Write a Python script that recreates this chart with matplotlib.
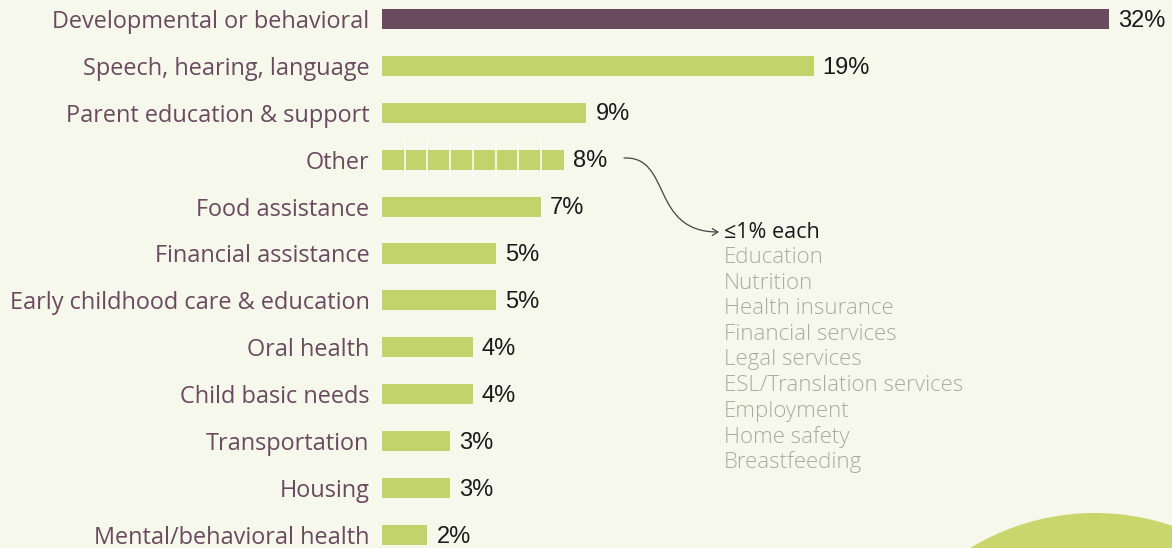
import matplotlib
matplotlib.use("Agg")
import matplotlib.pyplot as plt
from matplotlib.path import Path
from matplotlib.patches import FancyArrowPatch, Circle

categories = [
    "Developmental or behavioral",
    "Speech, hearing, language",
    "Parent education & support",
    "Other",
    "Food assistance",
    "Financial assistance",
    "Early childhood care & education",
    "Oral health",
    "Child basic needs",
    "Transportation",
    "Housing",
    "Mental/behavioral health",
]
values = [32, 19, 9, 8, 7, 5, 5, 4, 4, 3, 3, 2]
other_items = [
    "Education",
    "Nutrition",
    "Health insurance",
    "Financial services",
    "Legal services",
    "ESL/Translation services",
    "Employment",
    "Home safety",
    "Breastfeeding",
]
other_header = "\u22641% each"

BG = "#F6F8EC"
PURPLE = "#6A4A5E"
GREEN = "#C1D36A"
CIRCLE = "#C8D66C"
GREY = "#A9ABA2"

W, H = 1172, 548
fig = plt.figure(figsize=(W / 100, H / 100), dpi=100, facecolor=BG)

# Decoration layer in pixel coordinates
deco = fig.add_axes([0, 0, 1, 1], zorder=0)
deco.set_xlim(0, W)
deco.set_ylim(H, 0)
deco.axis("off")
deco.set_facecolor(BG)
deco.add_patch(Circle((1095, 753), 240, color=CIRCLE, lw=0))

# Bar chart
left_px = 382
ax = fig.add_axes([left_px / W, 0, 1 - left_px / W, 1], zorder=1)
ax.patch.set_alpha(0)
px_per_unit = (1109 - left_px) / 32
ax.set_xlim(0, (W - left_px) / px_per_unit)
row = 46.9
ax.set_ylim((H - 19) / row, -19 / row)

ypos = list(range(len(categories)))
colors = [PURPLE] + [GREEN] * (len(categories) - 1)
ax.barh(ypos, values, height=0.43, color=colors, lw=0)

# Segment the "Other" bar into 1% blocks
oi = categories.index("Other")
ax.vlines(range(1, values[oi]), oi - 0.37, oi + 0.37, colors="white", lw=1.1, zorder=3)

for y, v in zip(ypos, values):
    ax.annotate(f"{v}%", (v, y), xytext=(6.5, -1.2), textcoords="offset points",
                va="center", ha="left", fontsize=17, color="#1a1a1a",
                family="Liberation Sans")

ax.set_yticks(ypos)
ax.set_yticklabels(categories, fontsize=16.9, color=PURPLE, family="Open Sans")
ax.tick_params(axis="y", length=0, pad=9)
ax.set_xticks([])
for s in ax.spines.values():
    s.set_visible(False)

# Connector from "Other" to its breakdown list
verts = [(624, 158), (672, 156), (650, 232), (719, 232)]
codes = [Path.MOVETO, Path.CURVE4, Path.CURVE4, Path.CURVE4]
arrow = FancyArrowPatch(path=Path(verts, codes), arrowstyle="->,head_length=4,head_width=2.5",
                        color="#444444", lw=0.9)
deco.add_patch(arrow)

deco.text(724, 232, other_header, fontsize=15.5, color="#1a1a1a", va="center", ha="left",
          family=["Open Sans", "DejaVu Sans"])
for i, item in enumerate(other_items):
    deco.text(724, 257.5 + 25.6 * i, item, fontsize=16, color=GREY, va="center",
              ha="left", family="Open Sans", fontweight="light")

fig.savefig("out.png", dpi=100, facecolor=BG)
